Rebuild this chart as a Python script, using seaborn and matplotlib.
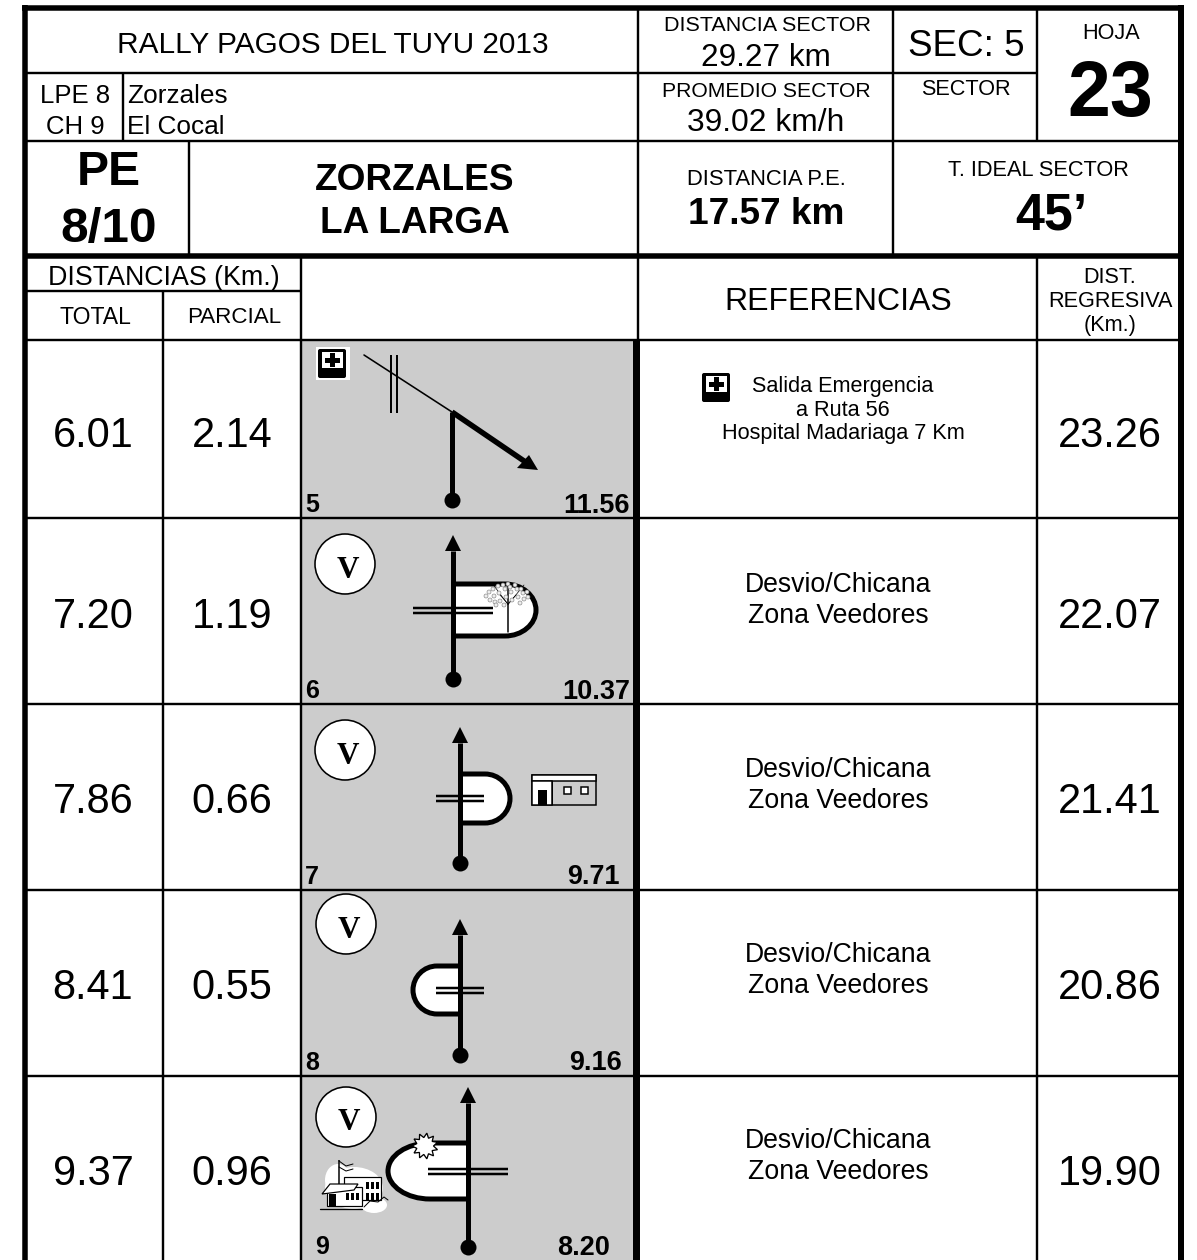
import numpy as np
import matplotlib
matplotlib.use("Agg")
import matplotlib.pyplot as plt
from matplotlib.patches import Circle, Ellipse, PathPatch, Polygon, Rectangle, FancyBboxPatch
from matplotlib.path import Path
import pandas as pd
import seaborn as sns

# values of the sheet
row_no = [5, 6, 7, 8, 9]
total = ["6.01", "7.20", "7.86", "8.41", "9.37"]
parcial = ["2.14", "1.19", "0.66", "0.55", "0.96"]
regresiva = ["23.26", "22.07", "21.41", "20.86", "19.90"]
sketch_km = ["11.56", "10.37", "9.71", "9.16", "8.20"]
referencias = ["", "Desvio/Chicana\nZona Veedores", "Desvio/Chicana\nZona Veedores",
               "Desvio/Chicana\nZona Veedores", "Desvio/Chicana\nZona Veedores"]
emergencia = ["Salida Emergencia", "a Ruta 56", "Hospital Madariaga 7 Km"]

# layout, in pixels of the sheet
text_y = [432, 613, 798, 984, 1170]
ref_y = [582, 582, 767, 952, 1138]
row_end = [518, 704, 890, 1076]
no_x = [305, 305, 305, 305, 315]
km_x = [630, 630, 620, 622, 610]
label_y = [503, 689, 874, 1060, 1245]

sns.set_theme(style="white")
plt.rcParams["font.family"] = ["Liberation Sans", "DejaVu Sans"]

fig = plt.figure(figsize=(11.97, 12.6), dpi=100)
ax = fig.add_axes([0, 0, 1, 1])
ax.set_xlim(0, 1197)
ax.set_ylim(1260, 0)
ax.axis("off")
PT = 0.72


def txt(x, y, s, px, ha="center", bold=False, **kw):
    # y is the middle of the capitals, va=center sits about 0.1 em above it
    ax.text(x, y + 0.1 * px, s, fontsize=px * PT, ha=ha, va="center",
            fontweight="bold" if bold else "normal", color="black", **kw)


def hl(y, x0, x1, w=2.4):
    ax.plot([x0, x1], [y, y], color="black", lw=w * PT, solid_capstyle="butt", zorder=5)


def vl(x, y0, y1, w=2.4):
    ax.plot([x, x], [y0, y1], color="black", lw=w * PT, solid_capstyle="butt", zorder=5)


def stem(x, y0, y1, w=5):
    sns.lineplot(x=[x, x], y=[y0, y1], color="black", lw=w * PT, ax=ax, sort=False, estimator=None,
                 errorbar=None, solid_capstyle="butt", zorder=8, legend=False)


def head(x, tip):
    ax.add_patch(Polygon([(x, tip), (x - 8, tip + 16), (x + 8, tip + 16)], color="black", lw=0, zorder=9))


def lobe(x0, top, bot, xe, xc, k=0.55):
    # D shaped loop of the chicane, xe is the far end, xc where the curve starts
    mid = (top + bot) / 2
    h = (bot - top) / 2
    verts = [(x0, top), (xc, top), (xc + (xe - xc) * k, top), (xe, mid - h * k), (xe, mid),
             (xe, mid + h * k), (xc + (xe - xc) * k, bot), (xc, bot), (x0, bot)]
    codes = [Path.MOVETO, Path.LINETO, Path.CURVE4, Path.CURVE4, Path.CURVE4,
             Path.CURVE4, Path.CURVE4, Path.CURVE4, Path.LINETO]
    ax.add_patch(PathPatch(Path(verts, codes), fc="white", ec="black", lw=5 * PT,
                           capstyle="butt", zorder=4))


def double(x0, x1, y0, y1):
    hl(y0, x0, x1, 2.5)
    hl(y1, x0, x1, 2.5)


def veedor(x, y):
    ax.add_patch(Circle((x, y), 30, fc="white", ec="black", lw=1.6 * PT, zorder=6))
    ax.text(x + 3, y + 6, "V", family="Liberation Serif", fontweight="bold", fontsize=31 * PT,
            ha="center", va="center", color="black", zorder=7)


def med(x, y, s=1.0, backing=True):
    if backing:
        ax.add_patch(Rectangle((x - 2 * s, y - 2 * s), 34 * s, 33 * s, fc="white", ec="none", zorder=6))
    ax.add_patch(FancyBboxPatch((x + 1, y + 1), 28 * s - 2, 29 * s - 2, boxstyle="round,pad=1,rounding_size=2",
                                fc="black", ec="none", zorder=7))
    ax.add_patch(Rectangle((x + 4 * s, y + 3 * s), 21 * s, 16 * s, fc="white", ec="none", zorder=8))
    ax.add_patch(Rectangle((x + 7 * s, y + 9 * s), 15 * s, 5 * s, fc="black", ec="none", zorder=9))
    ax.add_patch(Rectangle((x + 12 * s, y + 4 * s), 5 * s, 14 * s, fc="black", ec="none", zorder=9))


# grey sketch column
ax.add_patch(Rectangle((302, 340), 331, 920, fc="#cccccc", ec="none", zorder=1))

# frame
hl(7.5, 22, 1184, 5.5)
vl(25, 5, 1260, 5.5)
vl(1181, 5, 1260, 6)
hl(256, 23, 1181, 5.5)
vl(636, 340, 1260, 7)

hl(73, 23, 1037)
hl(141, 23, 1181)
hl(291, 23, 301)
hl(339.5, 23, 1181)
for y in row_end:
    hl(y, 23, 1181)
vl(637.5, 10, 340)
vl(893, 10, 256)
vl(1037, 10, 141)
vl(1037, 256, 1260)
vl(123, 73, 141)
vl(189, 141, 256)
vl(301, 256, 1260)
vl(163, 291, 1260)

# top block
txt(333, 42, "RALLY PAGOS DEL TUYU 2013", 29.7)
txt(75, 93, "LPE 8", 25.8)
txt(75, 124, "CH 9", 25.8)
txt(127, 93, "Zorzales", 26.3, ha="left")
txt(127, 124, "El Cocal", 26.3, ha="left")
txt(109, 168, "PE", 48, bold=True)
txt(109, 225, "8/10", 49.5, bold=True)
txt(415, 177, "ZORZALES", 37, bold=True)
txt(415, 220, "LA LARGA", 37, bold=True)

txt(767, 23, "DISTANCIA SECTOR", 21.5)
txt(766, 55, "29.27 km", 31.5)
txt(766, 89, "PROMEDIO SECTOR", 21.2)
txt(766, 120, "39.02 km/h", 31.8)
txt(966, 43, "SEC: 5", 36.7)
txt(966, 87, "SECTOR", 21.7)
txt(1111, 31, "HOJA", 21.6)
txt(1110, 88, "23", 77, bold=True)
txt(766, 177, "DISTANCIA P.E.", 22)
txt(766, 211, "17.57 km", 37, bold=True)
txt(1038, 168, "T. IDEAL SECTOR", 21.8)
txt(1051, 211, "45\u2019", 52, bold=True)

# column headers
txt(164, 275, "DISTANCIAS (Km.)", 26.8)
txt(95, 315, "TOTAL", 23)
txt(234, 315, "PARCIAL", 22.4)
txt(838, 299, "REFERENCIAS", 32)
txt(1110, 275, "DIST.", 21.7)
txt(1110, 299, "REGRESIVA", 21.7)
txt(1110, 323, "(Km.)", 21.7)

# rows
for i in range(5):
    txt(93, text_y[i], total[i], 41.5)
    txt(232, text_y[i], parcial[i], 41.5)
    txt(1110, text_y[i], regresiva[i], 41.5)
    txt(no_x[i], label_y[i], str(row_no[i]), 25, ha="left", bold=True, zorder=7)
    txt(km_x[i], label_y[i], sketch_km[i], 27, ha="right", bold=True, zorder=7)
    if referencias[i]:
        a, b = referencias[i].split("\n")
        txt(838, ref_y[i], a, 26.6)
        txt(838, ref_y[i] + 31, b, 26.6)
for s, y in zip(emergencia, [384, 408, 431]):
    txt(843, y, s, 21.7)
med(702, 373, 1.0, backing=False)

# start dots of the sketches
dots = pd.DataFrame({"x": [452, 453, 460, 460, 468], "y": [500, 679, 863, 1055, 1247]})
sns.scatterplot(data=dots, x="x", y="y", s=(16 * PT) ** 2, color="black", linewidth=0, ax=ax,
                zorder=9, legend=False)

# sketch 5
ax.plot([364, 452], [355, 412], color="black", lw=1.6 * PT, zorder=6)
vl(391, 355, 413, 2)
vl(397, 355, 413, 2)
stem(452, 412, 500)
ax.plot([452, 527], [412, 463], color="black", lw=5.5 * PT, solid_capstyle="butt", zorder=8)
ax.add_patch(Polygon([(538, 470), (517, 468), (529, 455)], color="black", lw=0, zorder=9))
med(318, 349)

# sketch 6
veedor(345, 564)
lobe(453, 584, 636, 536, 505)
double(413, 493, 608, 613)
stem(453, 551, 679)
head(453, 535)
ax.plot([508, 508], [585, 632], color="black", lw=1.5 * PT, zorder=6)
for dx, dy in [(-16, -12), (-8, 0), (16, -10), (8, 0)]:
    ax.plot([508, 508 + dx], [603 + abs(dx) * 0.1, 595 + dy], color="black", lw=0.7 * PT, zorder=6)
canopy = [(-22, 0), (-19, -4), (-18, 4), (-15, -7), (-14, 0), (-13, 6), (-10, -10), (-9, -3), (-8, 5), (-5, -11),
          (-3, -7), (-2, 1), (0, -12), (2, -9), (3, -4), (4, 4), (7, -11), (9, -7), (10, 1), (13, -7), (15, -3),
          (16, 3), (19, -4), (20, 1), (-12, 9), (12, 7), (-4, 9)]
for dx, dy in canopy:
    ax.add_patch(Circle((508 + dx, 596 + dy), 2.0, fc="#eeeeee", ec="#777777", lw=0.4, zorder=6))

# sketch 7
veedor(345, 750)
lobe(460, 774, 823, 510, 485)
double(436, 484, 796, 801)
stem(460, 743, 863)
head(460, 727)
ax.add_patch(Rectangle((532, 775), 64, 30, fc="#cccccc", ec="black", lw=1.5 * PT, zorder=5))
ax.add_patch(Rectangle((532, 775), 64, 6, fc="white", ec="black", lw=1.5 * PT, zorder=6))
ax.add_patch(Rectangle((532, 781), 20, 24, fc="white", ec="black", lw=1.5 * PT, zorder=6))
ax.add_patch(Rectangle((538, 790), 9, 15, fc="black", ec="none", zorder=7))
vl(552, 775, 805, 2)
ax.add_patch(Rectangle((564, 787), 7, 7, fc="white", ec="black", lw=1.5 * PT, zorder=7))
ax.add_patch(Rectangle((581, 787), 7, 7, fc="white", ec="black", lw=1.5 * PT, zorder=7))

# sketch 8
veedor(346, 924)
lobe(458, 966, 1014, 413, 437)
double(436, 484, 988, 993)
stem(460, 935, 1055)
head(460, 919)

# sketch 9
veedor(346, 1117)
lobe(466, 1143, 1199, 388, 430)
double(428, 508, 1169, 1174)
stem(468, 1103, 1247)
head(468, 1087)
burst = [(425 + (13 if j % 2 else 8.5) * np.cos(j * np.pi / 11), 1146 + (13 if j % 2 else 8.5) * np.sin(j * np.pi / 11))
         for j in range(22)]
ax.add_patch(Polygon(burst, fc="white", ec="black", lw=1.3 * PT, zorder=7))

# school clipart
ax.add_patch(Ellipse((354, 1188), 58, 42, fc="white", ec="none", zorder=5))
ax.add_patch(Ellipse((338, 1180), 26, 32, fc="white", ec="none", zorder=5))
ax.add_patch(Ellipse((374, 1205), 26, 16, fc="white", ec="none", zorder=5))
ax.add_patch(Rectangle((344, 1177), 37, 23, fc="white", ec="black", lw=1.2 * PT, zorder=6))
ax.add_patch(Rectangle((327, 1187), 35, 19, fc="white", ec="black", lw=1.2 * PT, zorder=7))
ax.add_patch(Polygon([(322, 1194), (330, 1184), (358, 1184), (354, 1190)], fc="white", ec="black",
                     lw=1.2 * PT, zorder=8))
ax.add_patch(Rectangle((329, 1194), 7, 12, fc="black", ec="none", zorder=9))
for wx in [346, 351, 356]:
    ax.add_patch(Rectangle((wx, 1193), 3, 7, fc="black", ec="none", zorder=9))
for wx in [366, 371, 376]:
    ax.add_patch(Rectangle((wx, 1182), 3, 7, fc="black", ec="none", zorder=9))
    ax.add_patch(Rectangle((wx, 1193), 3, 7, fc="black", ec="none", zorder=9))
vl(339, 1160, 1185, 1.5)
ax.plot([339, 346, 353], [1161, 1166, 1164], color="black", lw=1 * PT, zorder=9)
ax.plot([339, 346, 353], [1167, 1171, 1169], color="black", lw=1 * PT, zorder=9)
ax.plot([320, 362], [1208.5, 1208.5], color="black", lw=1.3 * PT, zorder=9)
ax.plot([364, 370, 378, 384, 388], [1207, 1201, 1202, 1197, 1200], color="black", lw=1 * PT, zorder=9)

fig.savefig("out.png", dpi=100, facecolor="white")
